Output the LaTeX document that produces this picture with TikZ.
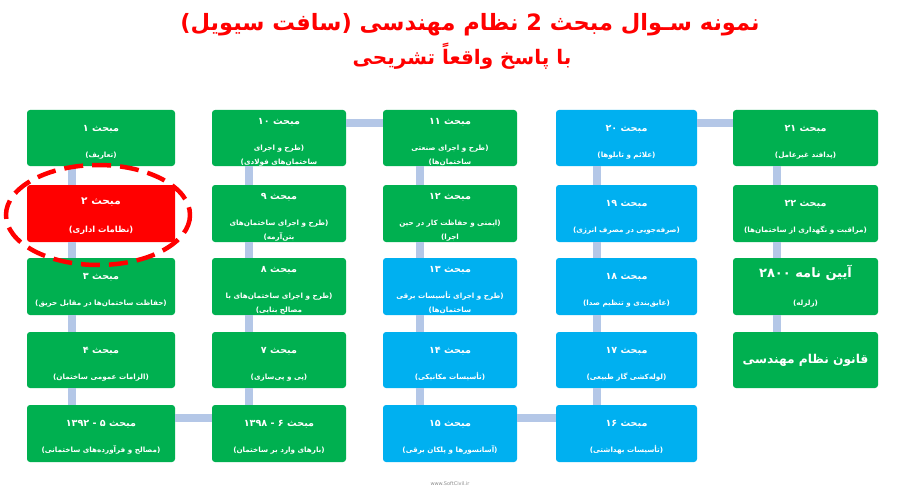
\documentclass[tikz,border=0pt]{standalone}
\usepackage{fontspec}
\TeXXeTstate=1
\newfontfamily\farsi[Script=Arabic]{DejaVu Sans}
\setsansfont{DejaVu Sans}
\definecolor{boxgreen}{HTML}{00B050}
\definecolor{boxblue}{HTML}{00B0F0}
\definecolor{boxred}{HTML}{FF0000}
\definecolor{linkcol}{HTML}{B4C7E7}
\newcommand{\FA}[1]{\beginR #1\endR}
\newcommand{\NL}[1]{\beginL #1\endL{}}
\begin{document}
\begin{tikzpicture}[x=1pt,y=-1pt,
  mbox/.style={rectangle,rounded corners=3pt,text=white,align=center,
    inner sep=0pt,font=\farsi\fontsize{7.2}{14}\selectfont\bfseries},
  gbox/.style={mbox,fill=boxgreen},
  bbox/.style={mbox,fill=boxblue},
  rbox/.style={mbox,fill=boxred},
  ttl/.style={text=boxred,font=\farsi\bfseries},
  link/.style={draw=linkcol,line width=7.5pt}]
\useasboundingbox (0,0) rectangle (911,495);
\fill[white] (0,0) rectangle (911,495);
% title
\node[ttl,font=\farsi\bfseries\fontsize{22.5}{26}\selectfont] (title1) at (470,25) {\FA{نمونه سـوال مبحث 2 نظام مهندسی (سافت سیویل)}};
\node[ttl,font=\farsi\bfseries\fontsize{20}{24}\selectfont] (title2) at (462,56) {\FA{با پاسخ واقعاً تشریحی}};
% helper: \bx{name}{style}{x1}{x2}{y1}{y2}{text}
\newcommand{\bx}[7]{\node[#2,minimum width=#4pt-#3pt,minimum height=#6pt-#5pt] (#1) at ({(#3+#4)/2},{(#5+#6)/2}) {#7};}
\def\T#1{{\fontsize{9.6}{10}\selectfont\rule{0pt}{14pt}\FA{#1}}}
\def\G{\\[12pt]}
% column 1
\bx{b1}{gbox}{27}{175}{110}{166}{\T{مبحث ۱}\G\FA{(تعاریف)}}
\bx{b2}{rbox}{27}{175}{185}{242}{{\fontsize{10.5}{10}\selectfont\rule{0pt}{13pt}\FA{مبحث ۲}}\\[14pt]{\fontsize{8.4}{9}\selectfont\FA{(نظامات اداری)}}}
\bx{b3}{gbox}{27}{175}{258}{315}{\T{مبحث ۳}\G\FA{(حفاظت ساختمان‌ها در مقابل حریق)}}
\bx{b4}{gbox}{27}{175}{332}{388}{\T{مبحث ۴}\G\FA{(الزامات عمومی ساختمان)}}
\bx{b5}{gbox}{27}{175}{405}{462}{\T{مبحث ۵ - \NL{۱۳۹۲}}\G\FA{(مصالح و فرآورده‌های ساختمانی)}}
% column 2
\bx{b10}{gbox}{212}{346}{110}{166}{\T{مبحث ۱۰}\G\FA{(طرح و اجرای}\\\FA{ساختمان‌های فولادی)}}
\bx{b9}{gbox}{212}{346}{185}{242}{\T{مبحث ۹}\G\FA{(طرح و اجرای ساختمان‌های}\\\FA{بتن‌آرمه)}}
\bx{b8}{gbox}{212}{346}{258}{315}{\T{مبحث ۸}\G\FA{(طرح و اجرای ساختمان‌های با}\\\FA{مصالح بنایی)}}
\bx{b7}{gbox}{212}{346}{332}{388}{\T{مبحث ۷}\G\FA{(پی و پی‌سازی)}}
\bx{b6}{gbox}{212}{346}{405}{462}{\T{مبحث ۶ - \NL{۱۳۹۸}}\G\FA{(بارهای وارد بر ساختمان)}}
% column 3
\bx{b11}{gbox}{383}{517}{110}{166}{\T{مبحث ۱۱}\G\FA{(طرح و اجرای صنعتی}\\\FA{ساختمان‌ها)}}
\bx{b12}{gbox}{383}{517}{185}{242}{\T{مبحث ۱۲}\G\FA{(ایمنی و حفاظت کار در حین}\\\FA{اجرا)}}
\bx{b13}{bbox}{383}{517}{258}{315}{\T{مبحث ۱۳}\G\FA{(طرح و اجرای تأسیسات برقی}\\\FA{ساختمان‌ها)}}
\bx{b14}{bbox}{383}{517}{332}{388}{\T{مبحث ۱۴}\G\FA{(تأسیسات مکانیکی)}}
\bx{b15}{bbox}{383}{517}{405}{462}{\T{مبحث ۱۵}\G\FA{(آسانسورها و پلکان برقی)}}
% column 4
\bx{b20}{bbox}{556}{697}{110}{166}{\T{مبحث ۲۰}\G\FA{(علائم و تابلوها)}}
\bx{b19}{bbox}{556}{697}{185}{242}{\T{مبحث ۱۹}\G\FA{(صرفه‌جویی در مصرف انرژی)}}
\bx{b18}{bbox}{556}{697}{258}{315}{\T{مبحث ۱۸}\G\FA{(عایق‌بندی و تنظیم صدا)}}
\bx{b17}{bbox}{556}{697}{332}{388}{\T{مبحث ۱۷}\G\FA{(لوله‌کشی گاز طبیعی)}}
\bx{b16}{bbox}{556}{697}{405}{462}{\T{مبحث ۱۶}\G\FA{(تأسیسات بهداشتی)}}
% column 5
\bx{b21}{gbox}{733}{878}{110}{166}{\T{مبحث ۲۱}\G\FA{(پدافند غیرعامل)}}
\bx{b22}{gbox}{733}{878}{185}{242}{\T{مبحث ۲۲}\G\FA{(مراقبت و نگهداری از ساختمان‌ها)}}
\bx{b28}{gbox}{733}{878}{258}{315}{{\fontsize{13}{12}\selectfont\FA{آیین نامه \NL{۲۸۰۰}}}\\[14pt]\FA{(زلزله)}}
\bx{bq}{gbox}{733}{878}{332}{388}{{\fontsize{12.2}{12}\selectfont\FA{قانون نظام مهندسی}}}
% connectors
\newcommand{\vl}[3]{\draw[link] ([xshift=#3pt]#1.south west) -- ([xshift=#3pt]#2.north west);}
\newcommand{\hl}[2]{\draw[link] ([yshift=-13pt]#1.north east) -- ([yshift=-13pt]#2.north west);}
\vl{b1}{b2}{45}\vl{b2}{b3}{45}\vl{b3}{b4}{45}\vl{b4}{b5}{45}
\vl{b10}{b9}{37}\vl{b9}{b8}{37}\vl{b8}{b7}{37}\vl{b7}{b6}{37}
\vl{b11}{b12}{37}\vl{b12}{b13}{37}\vl{b13}{b14}{37}\vl{b14}{b15}{37}
\vl{b20}{b19}{41}\vl{b19}{b18}{41}\vl{b18}{b17}{41}\vl{b17}{b16}{41}
\vl{b21}{b22}{44}\vl{b22}{b28}{44}\vl{b28}{bq}{44}
\hl{b5}{b6}\hl{b10}{b11}\hl{b15}{b16}\hl{b20}{b21}
% highlight ellipse
\draw[boxred,line width=4.5pt,dash pattern=on 19pt off 9pt] ([xshift=-3pt,yshift=-1.5pt]b2.center) ellipse [x radius=92, y radius=50];
% footer
\node[text=black!45,font=\sffamily\fontsize{5}{6}\selectfont] (web) at (450,484) {www.SoftCivil.ir};
\end{tikzpicture}
\end{document}
